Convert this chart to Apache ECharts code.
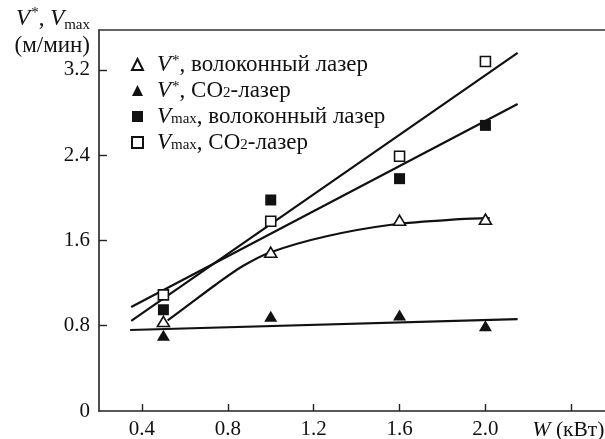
<!DOCTYPE html>
<html>
<head>
<meta charset="utf-8">
<script src="https://cdn.jsdelivr.net/npm/echarts@6/dist/echarts.min.js"></script>
<style>
  html, body { margin: 0; padding: 0; background: #fff; }
  #main { width: 605px; height: 439px; }
</style>
</head>
<body>
<div id="main"></div>
<script>
// laser power, kW
var powerKW = [0.5, 1.0, 1.6, 2.0];
// measured speeds, m/min
var vStarFiber = [0.84, 1.49, 1.79, 1.80];
var vStarCO2 = [0.71, 0.89, 0.90, 0.80];
var vMaxFiber = [0.95, 1.98, 2.18, 2.68];
var vMaxCO2 = [1.09, 1.78, 2.39, 3.28];

// fitted curves
var fitVmaxCO2 = [[0.35, 0.845], [2.15, 3.36]];
var fitVmaxFiber = [[0.35, 0.976], [2.15, 2.88]];
var fitVstarCO2 = [[0.345, 0.76], [2.15, 0.863]];
var fitVstarFiber = [[0.52, 0.85], [0.62, 1.00], [0.74, 1.18], [0.87, 1.36], [1.0, 1.49],
    [1.26, 1.64], [1.57, 1.75], [1.88, 1.80], [2.02, 1.81]];

var xTicks = [0.4, 0.8, 1.2, 1.6, 2.0, 2.4];
var yTicks = [0, 0.8, 1.6, 2.4, 3.2];

var seriesNames = ['vStarFiber', 'vStarCO2', 'vMaxFiber', 'vMaxCO2'];
var legendLabels = {
    vStarFiber: '{gap| }{v|V}{sup|*}, волоконный лазер',
    vStarCO2: '{gap| }{v|V}{sup|*}, CO{sub|2}-лазер',
    vMaxFiber: '{gap| }{v|V}{sub|max}, волоконный лазер',
    vMaxCO2: '{gap| }{v|V}{sub|max}, CO{sub|2}-лазер'
};

var FONT = '"Liberation Serif", "Times New Roman", "DejaVu Serif", serif';
var richText = {
    gap: { width: 9 },
    v: { fontFamily: FONT, fontStyle: 'italic', fontSize: 23, color: '#111' },
    sup: { fontFamily: FONT, fontSize: 15, color: '#111', verticalAlign: 'top', padding: [0, 0, 6, 1] },
    sub: { fontFamily: FONT, fontSize: 15, color: '#111', verticalAlign: 'bottom', padding: [6, 0, 0, 0] },
    w: { fontFamily: FONT, fontStyle: 'italic', fontSize: 22, color: '#111' },
    wt: { fontFamily: FONT, fontSize: 21.5, color: '#111', padding: [0, 6, 0, 0] },
    t: { fontFamily: FONT, fontSize: 23, color: '#111' }
};

function zip(xs, ys) {
    return xs.map(function (x, i) { return [x, ys[i]]; });
}

function fitLine(data, smooth) {
    return {
        type: 'line',
        data: data,
        smooth: smooth || false,
        showSymbol: false,
        symbol: 'none',
        silent: true,
        lineStyle: { color: '#111', width: 2.2 },
        z: 1
    };
}

function markers(name, ys, symbol, filled, size) {
    return {
        name: name,
        type: 'scatter',
        data: zip(powerKW, ys),
        symbol: symbol,
        symbolSize: size,
        itemStyle: {
            color: filled ? '#111' : '#fff',
            borderColor: '#111',
            borderWidth: filled ? 0 : 1.6,
            opacity: 1
        },
        z: 3
    };
}

var chart = echarts.init(document.getElementById('main'));

var option = {
    animation: false,
    backgroundColor: '#fff',
    grid: { left: 99, right: 0, top: 30, bottom: 28, outerBoundsMode: 'none' },
    legend: {
        orient: 'vertical',
        left: 126,
        top: 48,
        itemWidth: 11,
        itemHeight: 11,
        itemGap: 3,
        selectedMode: false,
        data: seriesNames,
        formatter: function (name) { return legendLabels[name]; },
        textStyle: {
            fontFamily: FONT,
            fontSize: 23,
            color: '#111',
            lineHeight: 21,
            rich: richText
        }
    },
    xAxis: [{
        type: 'value',
        min: 0.2,
        max: 2.557,
        splitLine: { show: false },
        axisLine: { lineStyle: { color: '#222', width: 1.6 } },
        axisTick: {
            inside: true,
            length: 7,
            customValues: xTicks,
            lineStyle: { color: '#222', width: 1.4 }
        },
        axisLabel: {
            customValues: xTicks,
            margin: 8,
            fontFamily: FONT,
            fontSize: 21,
            color: '#111',
            rich: richText,
            formatter: function (v) {
                if (Math.abs(v - 2.4) < 1e-6) return '{w|W}{wt| (кВт)}';
                return v.toFixed(1);
            }
        }
    }, {
        type: 'value',
        position: 'top',
        min: 0.2,
        max: 2.557,
        splitLine: { show: false },
        axisLine: { show: true, lineStyle: { color: '#333', width: 1.6 } },
        axisTick: { show: false },
        axisLabel: { show: false }
    }],
    yAxis: {
        type: 'value',
        min: 0,
        max: 3.575,
        splitLine: { show: false },
        axisLine: { lineStyle: { color: '#222', width: 1.6 } },
        axisTick: {
            inside: true,
            length: 8,
            customValues: [0.8, 1.6, 2.4, 3.2],
            lineStyle: { color: '#222', width: 1.4 }
        },
        axisLabel: {
            customValues: yTicks,
            margin: 9,
            fontFamily: FONT,
            fontSize: 21,
            color: '#111',
            formatter: function (v) { return v === 0 ? '0' : v.toFixed(1); }
        },
        name: '{v|V}{sup|*}{t|, }{v|V}{sub|max}\n{t|(м/мин)}',
        nameLocation: 'end',
        nameGap: 16,
        nameTextStyle: {
            fontFamily: FONT,
            fontSize: 22,
            color: '#111',
            align: 'right',
            verticalAlign: 'top',
            lineHeight: 27,
            padding: [0, 9, 0, 0],
            rich: richText
        }
    },
    series: [
        fitLine(fitVmaxCO2),
        fitLine(fitVmaxFiber),
        fitLine(fitVstarCO2),
        fitLine(fitVstarFiber, 0.3),
        markers('vStarFiber', vStarFiber, 'triangle', false, [12, 10]),
        markers('vStarCO2', vStarCO2, 'triangle', true, [13, 11]),
        markers('vMaxFiber', vMaxFiber, 'rect', true, [11, 11]),
        markers('vMaxCO2', vMaxCO2, 'rect', false, [10, 10])
    ]
};

chart.setOption(option);

window.onresize = function () {
    chart.resize();
};
</script>
</body>
</html>
